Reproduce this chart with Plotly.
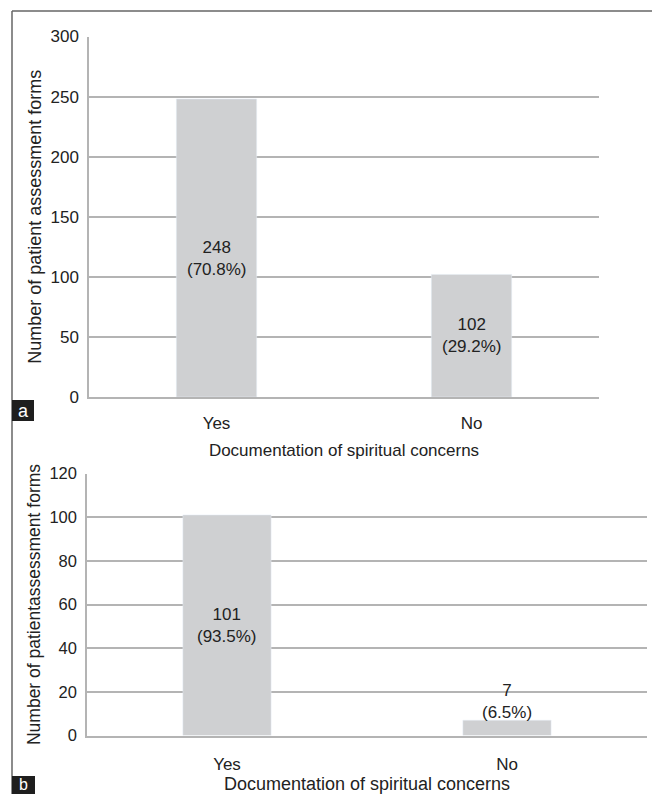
import plotly.graph_objects as go

# ---- data ----
categories = ["Yes", "No"]
counts_a = [248, 102]
pct_a = [70.8, 29.2]
counts_b = [101, 7]
pct_b = [93.5, 6.5]
yticks_a = [0, 50, 100, 150, 200, 250, 300]
yticks_b = [0, 20, 40, 60, 80, 100, 120]
xtitle = "Documentation of spiritual concerns"
ytitle_a = "Number of patient assessment forms"
ytitle_b = "Number of patientassessment forms"

# ---- style ----
W, H = 652, 794
FONT = "Arial, Liberation Sans, sans-serif"
TXT = "#222222"
BAR = "#cfd0d2"
GRID = "#b4b4b4"
FRAME = "#666666"
FS = 17

def px_x(v):
    return v / W

def px_y(v):
    return 1 - v / H

fig = go.Figure()
fig.add_trace(go.Bar(x=categories, y=counts_a, marker_color=BAR, width=0.315,
                     xaxis="x", yaxis="y", hoverinfo="skip", showlegend=False))
fig.add_trace(go.Bar(x=categories, y=counts_b, marker_color=BAR, width=0.315,
                     xaxis="x2", yaxis="y2", hoverinfo="skip", showlegend=False))

common_x = dict(type="category", range=[-0.5, 1.5], showgrid=False, showline=True,
                linecolor=GRID, linewidth=1.5, ticks="", fixedrange=True, automargin=False)
common_y = dict(showgrid=True, gridcolor=GRID, gridwidth=1.5, showline=True, linecolor=GRID,
                linewidth=1.5, ticks="", zeroline=False, ticklabelstandoff=5, fixedrange=True,
                automargin=False)

fig.update_layout(
    width=W, height=H, margin=dict(l=0, r=0, t=0, b=0, autoexpand=False),
    paper_bgcolor="white", plot_bgcolor="white",
    font=dict(family=FONT, size=FS, color=TXT),
    xaxis=dict(domain=[px_x(89), px_x(599)], anchor="y", ticklabelstandoff=10,
               tickfont=dict(family=FONT, size=FS, color=TXT),
               title=dict(text=xtitle, font=dict(size=FS, color=TXT), standoff=12), **common_x),
    yaxis=dict(domain=[px_y(397), px_y(36.5)], anchor="x", range=[0, 300], tickvals=yticks_a,
               tickfont=dict(family=FONT, size=FS, color=TXT),
               title=dict(text=ytitle_a, font=dict(size=18, color=TXT), standoff=4), **common_y),
    xaxis2=dict(domain=[px_x(87), px_x(647)], anchor="y2", ticklabelstandoff=12,
                tickfont=dict(family=FONT, size=FS, color=TXT),
                title=dict(text=xtitle, font=dict(size=18, color=TXT), standoff=11), **common_x),
    yaxis2=dict(domain=[px_y(735.5), px_y(473.5)], anchor="x2", range=[0, 120], tickvals=yticks_b,
                tickfont=dict(family=FONT, size=16.5, color=TXT),
                title=dict(text=ytitle_b, font=dict(size=17.5, color=TXT), standoff=4), **common_y),
    bargap=0.685,
)

# data labels
shift_a = [-11, 0]
for c, v, p, s in zip(categories, counts_a, pct_a, shift_a):
    fig.add_annotation(x=c, y=v / 2, xref="x", yref="y", text=f"{v}<br>({p}%)", showarrow=False,
                       yanchor="middle", yshift=s, font=dict(family=FONT, size=FS, color=TXT))
for i, (c, v, p) in enumerate(zip(categories, counts_b, pct_b)):
    if i == 0:
        fig.add_annotation(x=c, y=v / 2, xref="x2", yref="y2", text=f"{v}<br>({p}%)", showarrow=False,
                           yanchor="middle", font=dict(family=FONT, size=FS, color=TXT))
    else:
        fig.add_annotation(x=c, y=v, xref="x2", yref="y2", text=f"{v}<br>({p}%)", showarrow=False,
                           yanchor="bottom", yshift=-4, font=dict(family=FONT, size=FS, color=TXT))

# outer frame (top and left)
fig.add_shape(type="line", xref="paper", yref="paper", x0=px_x(12), x1=1, y0=px_y(11), y1=px_y(11),
              line=dict(color=FRAME, width=1.5))
fig.add_shape(type="line", xref="paper", yref="paper", x0=px_x(12), x1=px_x(12), y0=0, y1=px_y(11),
              line=dict(color=FRAME, width=1.5))

# panel letters
fig.add_shape(type="rect", xref="paper", yref="paper", x0=px_x(12), x1=px_x(34),
              y0=px_y(421), y1=px_y(400), fillcolor="#1e1e1e", line=dict(width=0))
fig.add_annotation(xref="paper", yref="paper", x=px_x(23), y=px_y(411.5),
                   text="a", showarrow=False, font=dict(family=FONT, size=18, color="white"),
                   xanchor="center", yanchor="middle")
fig.add_shape(type="rect", xref="paper", yref="paper", x0=px_x(12), x1=px_x(35),
              y0=0, y1=px_y(776), fillcolor="#1e1e1e", line=dict(width=0))
fig.add_annotation(xref="paper", yref="paper", x=px_x(23.5), y=0,
                   text="b", showarrow=False, font=dict(family=FONT, size=16, color="white"),
                   xanchor="center", yanchor="bottom", borderpad=0)

fig.write_html("out.html", config={"displayModeBar": False},
               post_script="document.body.style.margin='0px';document.body.style.overflow='hidden';")
